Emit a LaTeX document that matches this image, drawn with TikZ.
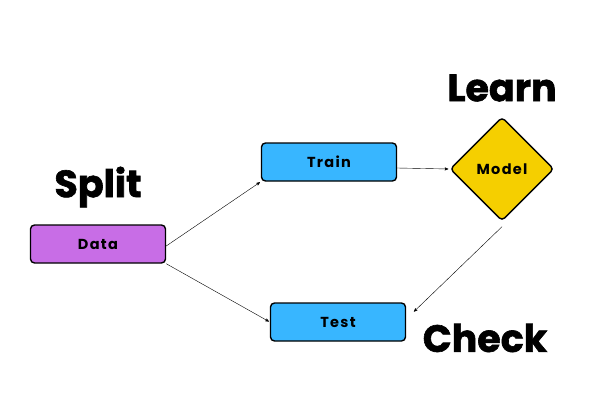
\documentclass[tikz,border=0pt]{standalone}
\usepackage{fontspec}
\setmainfont{Poppins}
\newfontfamily\boxfont{Poppins}[LetterSpace=9]
\newfontfamily\heavyfont{Poppins}[BoldFeatures={FakeBold=1.6}]
\usetikzlibrary{arrows,shapes.geometric}
\definecolor{datapurple}{HTML}{C86DE6}
\definecolor{setblue}{HTML}{38B6FF}
\definecolor{modelyellow}{HTML}{F5CF00}

\begin{document}
\begin{tikzpicture}[x=1pt,y=-1pt,->,>=stealth',shorten >=1pt,thin]
  \tikzset{box/.style={draw=black,line width=1.4pt,rounded corners=4pt,
                       minimum width=135pt,minimum height=38pt,
                       font=\boxfont\fontsize{14.5}{16}\selectfont\bfseries},
           word/.style={font=\heavyfont\fontsize{38}{44}\selectfont\bfseries}}
  \useasboundingbox (0,0) rectangle (600,400);

  \node[box,fill=datapurple]   (D) at (98,244)  {Data};
  \node[box,fill=setblue]      (T) at (329,162) {Train};
  \node[box,fill=setblue]      (E) at (338,322) {Test};
  \node[diamond,draw=black,line width=1.4pt,rounded corners=4pt,
        fill=modelyellow,minimum width=104pt,minimum height=104pt,inner sep=0pt,
        font=\boxfont\fontsize{14.5}{16}\selectfont\bfseries] (M) at (502,169) {Model};

  \node[word] (S) at (98,187)  {Split};
  \node[word] (L) at (502,88)  {Learn};
  \node[word] (C) at (485,338) {Check};

  \path ([yshift=-2pt]D.east)   edge (T.south west)
        (D.south east)          edge (E.west)
        ([yshift=-6pt]T.east)   edge (M.west)
        ([yshift=-5pt]M.south)  edge ([xshift=7pt,yshift=-10pt]E.north east);

\end{tikzpicture}
\end{document}
